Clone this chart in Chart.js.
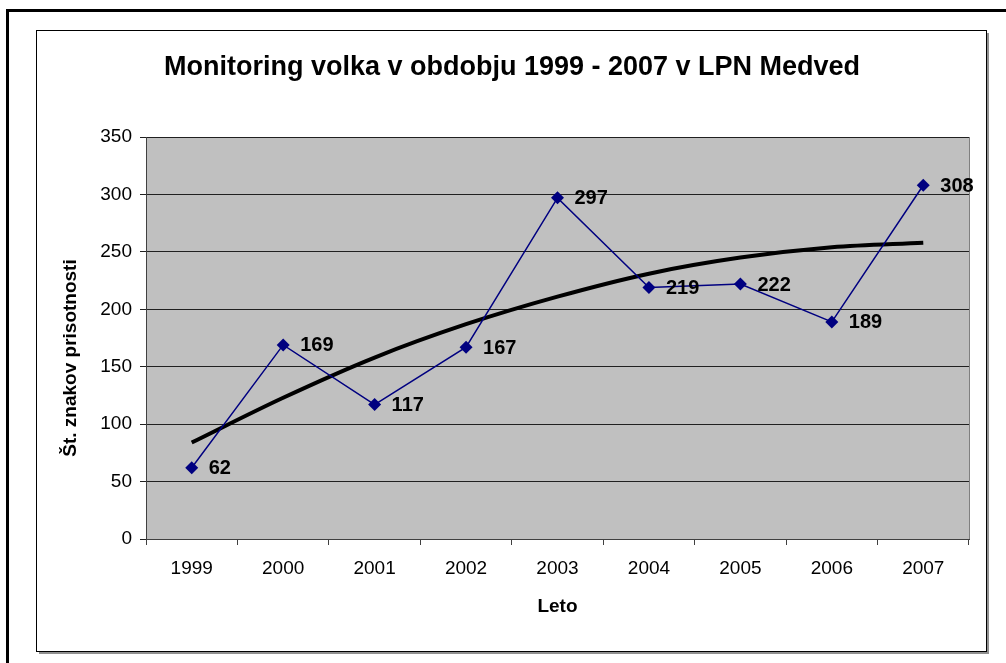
<!DOCTYPE html>
<html>
<head>
<meta charset="utf-8">
<script src="https://cdn.jsdelivr.net/npm/chart.js@4.4.1/dist/chart.umd.min.js"></script>
<style>
  html, body { margin: 0; padding: 0; background: #fff; }
  canvas { display: block; }
</style>
</head>
<body>
<canvas id="wolfChart" width="1006" height="663"></canvas>
<script>
// values
const years = ['1999', '2000', '2001', '2002', '2003', '2004', '2005', '2006', '2007'];
const signs = [62, 169, 117, 167, 297, 219, 222, 189, 308];
// trend line at each year
const trend = [84, 123, 158, 187, 211, 231, 245, 254, 258];
const yTicks = [0, 50, 100, 150, 200, 250, 300, 350];

const chartTitle = 'Monitoring volka v obdobju 1999 - 2007 v LPN Medved';
const yTitle = 'Št. znakov prisotnosti';
const xTitle = 'Leto';

const FONT = '"Liberation Sans", Arial, sans-serif';
Chart.defaults.font.family = FONT;
Chart.defaults.color = '#000';

// frames + gray plot area
const background = {
    id: 'background',
    beforeDraw(chart) {
        const ctx = chart.ctx;
        const a = chart.chartArea;
        ctx.save();
        ctx.fillStyle = '#fff';
        ctx.fillRect(0, 0, chart.width, chart.height);
        // outer thick frame (left + top)
        ctx.fillStyle = '#000';
        ctx.fillRect(6, 9, 3, chart.height - 9);
        ctx.fillRect(6, 9, chart.width - 6, 3);
        // inner chart box with shadow
        ctx.fillStyle = '#909090';
        ctx.fillRect(39, 33, 950, 621);
        ctx.fillStyle = '#fff';
        ctx.fillRect(37, 31, 949, 620);
        ctx.strokeStyle = '#000';
        ctx.lineWidth = 1;
        ctx.strokeRect(36.5, 30.5, 950, 621);
        // plot area
        ctx.fillStyle = '#c0c0c0';
        ctx.fillRect(a.left, a.top, a.right - a.left, a.bottom - a.top);
        ctx.strokeStyle = '#808080';
        ctx.strokeRect(Math.round(a.left) + 0.5, Math.round(a.top) + 0.5,
            Math.round(a.right - a.left), Math.round(a.bottom - a.top));
        ctx.restore();
    }
};

// title, value labels, axis titles
const labels = {
    id: 'labels',
    afterDraw(chart) {
        const ctx = chart.ctx;
        const a = chart.chartArea;
        const meta = chart.getDatasetMeta(0);
        ctx.save();
        ctx.fillStyle = '#000';
        ctx.textBaseline = 'middle';

        ctx.font = 'bold 27px ' + FONT;
        ctx.textAlign = 'center';
        ctx.fillText(chartTitle, 512, 68);

        ctx.font = 'bold 20px ' + FONT;
        ctx.textAlign = 'left';
        meta.data.forEach((pt, i) => {
            ctx.fillText(String(signs[i]), pt.x + 17, pt.y + 1);
        });

        ctx.font = 'bold 19px ' + FONT;
        ctx.textAlign = 'center';
        ctx.fillText(xTitle, (a.left + a.right) / 2, 607);

        ctx.translate(71, 358);
        ctx.rotate(-Math.PI / 2);
        ctx.fillText(yTitle, 0, 0);
        ctx.restore();
    }
};

new Chart(document.getElementById('wolfChart'), {
    type: 'line',
    data: {
        labels: years,
        datasets: [{
            label: 'Št. znakov prisotnosti',
            data: signs,
            borderColor: '#000080',
            backgroundColor: '#000080',
            borderWidth: 1.5,
            pointStyle: 'rectRot',
            pointRadius: 6.5,
            pointBorderWidth: 0,
            tension: 0,
            order: 1
        }, {
            label: 'Trend',
            data: trend,
            borderColor: '#000',
            borderWidth: 4,
            pointRadius: 0,
            cubicInterpolationMode: 'monotone',
            order: 2
        }]
    },
    options: {
        responsive: false,
        animation: false,
        devicePixelRatio: 1,
        layout: {
            padding: { top: 137, left: 37, right: 37, bottom: 12 }
        },
        plugins: {
            legend: { display: false },
            tooltip: { enabled: false },
            title: { display: false }
        },
        scales: {
            x: {
                offset: true,
                afterFit: s => { s.height = 112; },
                grid: {
                    offset: true,
                    drawOnChartArea: false,
                    drawTicks: true,
                    tickLength: 6,
                    color: '#404040'
                },
                border: { color: '#404040' },
                ticks: {
                    font: { size: 19 },
                    color: '#000',
                    padding: 12,
                    maxRotation: 0
                }
            },
            y: {
                min: 0,
                max: 350,
                afterFit: s => { s.width = 109; },
                afterBuildTicks: s => { s.ticks = yTicks.map(v => ({ value: v })); },
                grid: {
                    color: '#202020',
                    tickLength: 6
                },
                border: { color: '#404040' },
                ticks: {
                    font: { size: 19 },
                    color: '#000',
                    padding: 8
                }
            }
        }
    },
    plugins: [background, labels]
});
</script>
</body>
</html>
